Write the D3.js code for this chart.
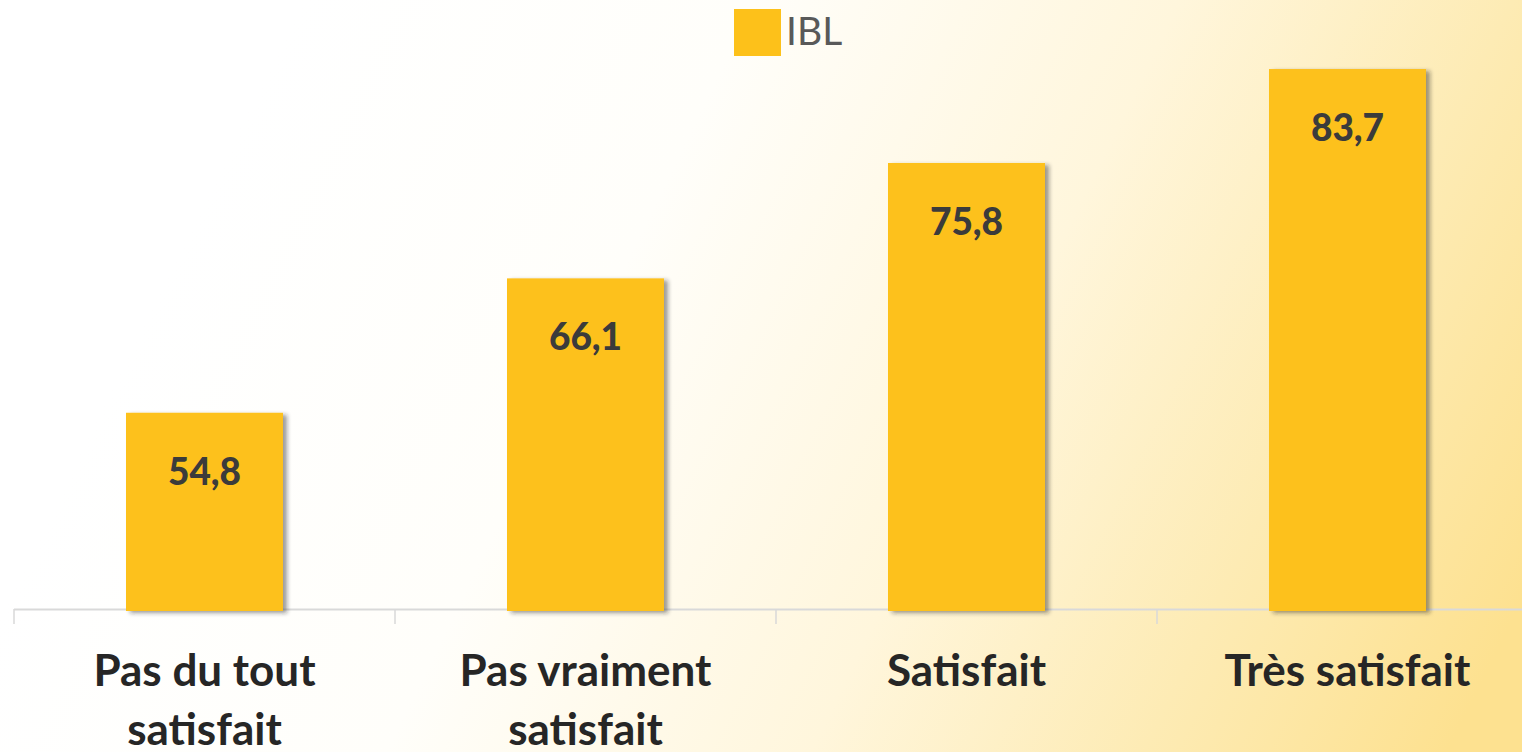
<!DOCTYPE html>
<html>
<head>
<meta charset="utf-8">
<script src="https://cdn.jsdelivr.net/npm/d3@7"></script>
<style>
  html, body { margin: 0; padding: 0; overflow: hidden; }
  svg { display: block; }
</style>
</head>
<body>
<svg id="canvas" width="1522" height="752"></svg>
<script>
var categories = [
    ['Pas du tout', 'satisfait'],
    ['Pas vraiment', 'satisfait'],
    ['Satisfait'],
    ['Très satisfait']
];
var values = [54.8, 66.1, 75.8, 83.7];
var seriesName = 'IBL';

var W = 1522, H = 752;
var baseY = 609;
var barColor = '#fdc11a';

var svg = d3.select('#canvas');
var defs = svg.append('defs');

// background: white fading to soft yellow toward the right
var bg = defs.append('linearGradient')
    .attr('id', 'bg')
    .attr('gradientUnits', 'userSpaceOnUse')
    .attr('x1', 300).attr('y1', 0)
    .attr('x2', W).attr('y2', 600);
bg.append('stop').attr('offset', '0').attr('stop-color', '#ffffff');
bg.append('stop').attr('offset', '0.3').attr('stop-color', '#fffefa');
bg.append('stop').attr('offset', '0.58').attr('stop-color', '#fff6dc');
bg.append('stop').attr('offset', '0.8').attr('stop-color', '#fdebb4');
bg.append('stop').attr('offset', '1').attr('stop-color', '#fde190');

var shadow = defs.append('filter')
    .attr('id', 'shadow')
    .attr('x', '-10%').attr('y', '-10%')
    .attr('width', '130%').attr('height', '130%');
shadow.append('feDropShadow')
    .attr('dx', 4).attr('dy', 2)
    .attr('stdDeviation', 2)
    .attr('flood-color', '#222')
    .attr('flood-opacity', 0.45);

svg.append('rect')
    .attr('width', W).attr('height', H)
    .attr('fill', 'url(#bg)');

var x = d3.scaleBand()
    .domain(d3.range(values.length))
    .range([14, 1538])
    .paddingInner(0.588)
    .paddingOuter(0.294);

var y = d3.scaleLinear()
    .domain([38.3, 85.3])
    .range([baseY, 50]);

var step = x.step();
var gap = x.paddingInner() * step / 2;

// axis line and category separators
svg.append('line')
    .attr('x1', x(0) - gap).attr('x2', W)
    .attr('y1', baseY + 0.5).attr('y2', baseY + 0.5)
    .attr('stroke', '#d9d9d9')
    .attr('stroke-width', 2);

svg.selectAll('.tick')
    .data(d3.range(values.length))
    .enter()
    .append('line')
    .attr('class', 'tick')
    .attr('x1', function (d) { return x(d) - gap; })
    .attr('x2', function (d) { return x(d) - gap; })
    .attr('y1', baseY)
    .attr('y2', baseY + 15)
    .attr('stroke', '#d9d9d9')
    .attr('stroke-width', 1.5);

// bars
svg.selectAll('.bar')
    .data(values)
    .enter()
    .append('rect')
    .attr('class', 'bar')
    .attr('x', function (d, i) { return x(i); })
    .attr('y', function (d) { return y(d); })
    .attr('width', x.bandwidth())
    .attr('height', function (d) { return baseY + 2 - y(d); })
    .attr('fill', barColor)
    .attr('filter', 'url(#shadow)');

// value labels inside bars
svg.selectAll('.val')
    .data(values)
    .enter()
    .append('text')
    .attr('class', 'val')
    .attr('x', function (d, i) { return x(i) + x.bandwidth() / 2; })
    .attr('y', function (d) { return y(d) + 72; })
    .attr('text-anchor', 'middle')
    .attr('font-family', 'Lato, sans-serif')
    .attr('font-weight', 900)
    .attr('font-size', 37)
    .attr('fill', '#3b3b3b')
    .text(function (d) { return d.toFixed(1).replace('.', ','); });

// category labels
var cat = svg.selectAll('.cat')
    .data(categories)
    .enter()
    .append('text')
    .attr('class', 'cat')
    .attr('text-anchor', 'middle')
    .attr('font-family', 'Lato, sans-serif')
    .attr('font-weight', 'bold')
    .attr('font-size', 44)
    .attr('fill', '#262626');

cat.selectAll('tspan')
    .data(function (d, i) { return d.map(function (t) { return { t: t, i: i }; }); })
    .enter()
    .append('tspan')
    .attr('x', function (d) { return x(d.i) + x.bandwidth() / 2; })
    .attr('y', function (d, j) { return 686 + j * 59; })
    .text(function (d) { return d.t; });

// legend
svg.append('rect')
    .attr('x', 734).attr('y', 9)
    .attr('width', 47).attr('height', 47)
    .attr('fill', barColor);

svg.append('text')
    .attr('x', 786).attr('y', 45)
    .attr('font-family', 'Lato, sans-serif')
    .attr('font-size', 39)
    .attr('fill', '#595959')
    .text(seriesName);
</script>
</body>
</html>
